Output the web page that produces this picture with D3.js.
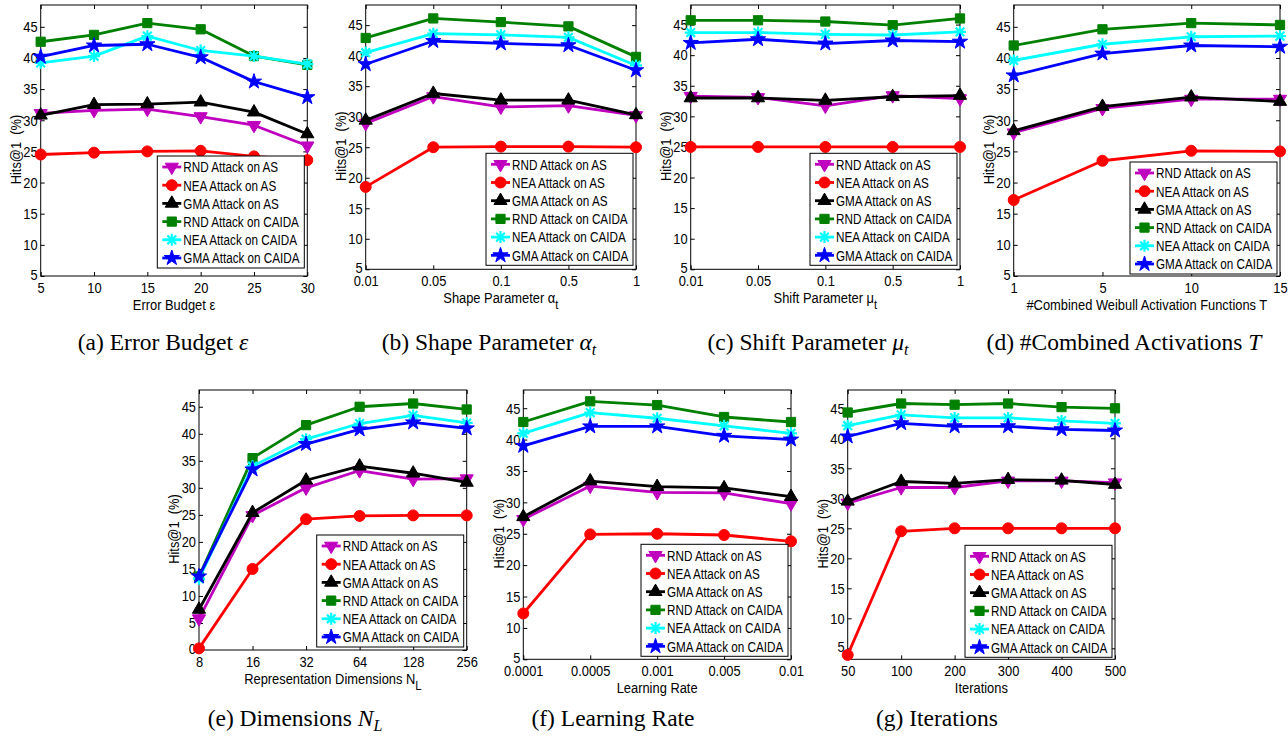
<!DOCTYPE html>
<html lang="en">
<head>
<meta charset="UTF-8" />
<script src="https://d3js.org/d3.v7.min.js"></script>
<style>
  body { margin: 0; background: #fff; }
  svg text { font-family: "Liberation Sans", Arial, sans-serif; font-size: 15px; fill: #000; }
  svg text.caption { font-family: "Liberation Serif", "Times New Roman", serif; font-size: 23.5px; }
</style>
<title>Hits@1 sensitivity</title>
</head>
<body>
<div id="chart"></div>
<script>
// legend entries, same order in every panel
const seriesNames = ["RND Attack on AS", "NEA Attack on AS", "GMA Attack on AS",
  "RND Attack on CAIDA", "NEA Attack on CAIDA", "GMA Attack on CAIDA"];

const yTicks = [5, 10, 15, 20, 25, 30, 35, 40, 45];
const yTicksDims = [0, 5, 10, 15, 20, 25, 30, 35, 40, 45];

// (a) error budget
const budgetTicks = ["5", "10", "15", "20", "25", "30"];
const budgetHits = [
  [31.1, 31.6, 31.8, 30.6, 29.2, 25.9],
  [24.5, 24.8, 25.0, 25.1, 24.2, 23.6],
  [30.8, 32.5, 32.6, 32.9, 31.3, 27.8],
  [42.6, 43.7, 45.6, 44.6, 40.3, 38.9],
  [39.2, 40.3, 43.5, 41.2, 40.3, 39.0],
  [40.2, 42.0, 42.2, 40.1, 36.2, 33.7]
];

// (b) shape parameter
const shapeTicks = ["0.01", "0.05", "0.1", "0.5", "1"];
const shapeHits = [
  [28.9, 33.3, 31.6, 31.8, 30.2],
  [18.5, 25.0, 25.1, 25.1, 25.0],
  [29.4, 33.8, 32.7, 32.7, 30.3],
  [42.9, 46.1, 45.5, 44.8, 39.8],
  [40.5, 43.6, 43.4, 43.0, 38.4],
  [38.6, 42.4, 42.0, 41.7, 37.6]
];

// (c) shift parameter
const shiftTicks = ["0.01", "0.05", "0.1", "0.5", "1"];
const shiftHits = [
  [33.3, 33.1, 31.7, 33.4, 32.9],
  [25.0, 25.0, 25.0, 25.0, 25.0],
  [33.0, 33.0, 32.6, 33.2, 33.4],
  [45.7, 45.7, 45.5, 44.9, 46.0],
  [43.7, 43.7, 43.4, 43.3, 43.8],
  [42.0, 42.6, 41.9, 42.4, 42.2]
];

// (d) number of combined activations
const actTicks = ["1", "5", "10", "15"];
const actHits = [
  [28.0, 31.9, 33.4, 33.4],
  [17.2, 23.5, 25.1, 25.0],
  [28.3, 32.2, 33.7, 33.0],
  [42.0, 44.6, 45.6, 45.3],
  [39.6, 42.2, 43.4, 43.5],
  [37.2, 40.7, 42.0, 41.8]
];

// (e) representation dimensions
const dimTicks = ["8", "16", "32", "64", "128", "256"];
const dimHits = [
  [5.8, 24.9, 30.0, 33.2, 31.6, 31.7],
  [0.3, 15.0, 24.2, 24.8, 24.9, 24.9],
  [7.5, 25.4, 31.4, 34.0, 32.7, 31.0],
  [13.6, 35.5, 41.6, 45.0, 45.6, 44.5],
  [13.2, 34.0, 39.0, 41.9, 43.4, 42.0],
  [13.6, 33.4, 38.1, 40.8, 42.1, 41.0]
];

// (f) learning rate
const lrTicks = ["0.0001", "0.0005", "0.001", "0.005", "0.01"];
const lrHits = [
  [27.3, 32.6, 31.6, 31.5, 29.8],
  [12.3, 24.9, 25.0, 24.8, 23.8],
  [27.7, 33.4, 32.5, 32.3, 30.9],
  [42.8, 46.1, 45.5, 43.6, 42.8],
  [41.0, 44.3, 43.4, 42.2, 41.0],
  [39.0, 42.1, 42.1, 40.6, 40.0]
];

// (g) iterations
const iterTicks = ["50", "100", "200", "300", "400", "500"];
const iterHits = [
  [29.2, 31.8, 31.8, 32.9, 32.9, 32.6],
  [3.9, 24.5, 25.0, 25.0, 25.0, 25.0],
  [29.5, 32.8, 32.5, 33.1, 33.0, 32.3],
  [44.3, 45.8, 45.6, 45.8, 45.2, 45.0],
  [42.1, 43.9, 43.4, 43.4, 42.9, 42.5],
  [40.3, 42.5, 42.0, 42.0, 41.5, 41.3]
];

// series look (matlab style)
const colors = ["#bf00bf", "#ff0000", "#000000", "#008000", "#00ffff", "#0000ff"];
const shapes = ["down", "circle", "up", "square", "asterisk", "star"];

// panel layout
const panels = [
  { ticks: budgetTicks, hits: budgetHits, yt: yTicks, yd: [5, 48.5], box: [40.7, 307.3, 5, 276], inset: 8,
    xlabel: ["Error Budget ε"], caption: [["(a) Error Budget "], ["ε", "i"]], cap: [163, 350] },
  { ticks: shapeTicks, hits: shapeHits, yt: yTicks, yd: [5, 48.3], box: [365.7, 636, 5, 269.3], inset: 4,
    xlabel: ["Shape Parameter α", "t"], caption: [["(b) Shape Parameter "], ["α", "i"], ["t", "is"]], cap: [489, 350] },
  { ticks: shiftTicks, hits: shiftHits, yt: yTicks, yd: [5, 48.2], box: [690.7, 960, 5, 269.3], inset: 4,
    xlabel: ["Shift Parameter μ", "t"], caption: [["(c) Shift Parameter "], ["μ", "i"], ["t", "is"]], cap: [808, 350] },
  { ticks: actTicks, hits: actHits, yt: yTicks, yd: [5, 48.5], box: [1013.7, 1280, 5, 276], inset: 2,
    xlabel: ["#Combined Weibull Activation Functions T"], caption: [["(d) #Combined Activations "], ["T", "i"]], cap: [1124, 350] },
  { ticks: dimTicks, hits: dimHits, yt: yTicksDims, yd: [0, 48.1], box: [199, 466.7, 390, 650], inset: 3,
    xlabel: ["Representation Dimensions N", "L"], caption: [["(e) Dimensions "], ["N", "i"], ["L", "is"]], cap: [295, 726] },
  { ticks: lrTicks, hits: lrHits, yt: yTicks, yd: [5, 47.9], box: [523.3, 791, 390, 659.3], inset: 3,
    xlabel: ["Learning Rate"], caption: [["(f) Learning Rate"]], cap: [613, 726] },
  { ticks: iterTicks, hits: iterHits, yt: yTicks, yd: [3.17, 48.05], box: [847.7, 1115, 390, 659.3], inset: 2,
    xlabel: ["Iterations"], caption: [["(g) Iterations"]], cap: [937, 726] }
];

const squeezeK = 0.86;
function squeeze(sel, k = squeezeK) {
  sel.attr("transform", function () {
    const x0 = +this.getAttribute("x") || 0;
    return `translate(${x0 * (1 - k)},0) scale(${k},1)`;
  });
}

function marker(g, kind, color) {
  if (kind === "asterisk") {
    const r = 6, d = r * 0.72;
    g.append("path")
      .attr("d", `M${-r},0H${r}M0,${-r}V${r}M${-d},${-d}L${d},${d}M${-d},${d}L${d},${-d}`)
      .attr("stroke", color).attr("stroke-width", 2.2).attr("fill", "none");
    return;
  }
  const types = { circle: d3.symbolCircle, square: d3.symbolSquare, up: d3.symbolTriangle,
    down: d3.symbolTriangle, star: d3.symbolStar };
  const sizes = { circle: 95, square: 85, up: 75, down: 75, star: 72 };
  g.append("path")
    .attr("d", d3.symbol(types[kind], sizes[kind])())
    .attr("fill", color).attr("stroke", color).attr("stroke-width", 1)
    .attr("transform", kind === "down" ? "rotate(180)" : null);
}

const svg = d3.select("#chart").append("svg")
  .attr("width", 1288).attr("height", 736)
  .style("background", "#fff");

panels.forEach((p) => {
  const [left, right, top, bottom] = p.box;
  const x = d3.scalePoint().domain(p.ticks).range([left, right]).padding(0);
  const y = d3.scaleLinear().domain(p.yd).range([bottom, top]);
  const g = svg.append("g");

  g.append("rect")
    .attr("x", left).attr("y", top)
    .attr("width", right - left).attr("height", bottom - top)
    .attr("fill", "#fff").attr("stroke", "#000").attr("stroke-width", 1);

  // ticks point inwards on all four sides
  const xb = g.append("g").attr("transform", `translate(0,${bottom})`)
    .call(d3.axisBottom(x).tickSizeInner(-4).tickSizeOuter(0).tickPadding(6.5));
  const yl = g.append("g").attr("transform", `translate(${left},0)`)
    .call(d3.axisLeft(y).tickValues(p.yt).tickSizeInner(-4).tickSizeOuter(0).tickPadding(3));
  g.append("g").attr("transform", `translate(0,${top})`)
    .call(d3.axisTop(x).tickSizeInner(-4).tickSizeOuter(0).tickFormat(""));
  g.append("g").attr("transform", `translate(${right},0)`)
    .call(d3.axisRight(y).tickValues(p.yt).tickSizeInner(-4).tickSizeOuter(0).tickFormat(""));
  g.selectAll(".domain").remove();
  g.selectAll(".tick line").attr("stroke", "#000");
  g.selectAll(".tick text").attr("font-size", 15).attr("font-family", null).attr("fill", "#000");
  squeeze(xb.selectAll(".tick text"));
  squeeze(yl.selectAll(".tick text"));
  // lowest y label sits right in the corner, lift it a hair so it clears the x labels
  yl.selectAll(".tick text").filter((d) => d === p.yt[0]).attr("dy", "0.2em");

  // axis titles
  const xl = g.append("text")
    .attr("x", (left + right) / 2).attr("y", bottom + 34)
    .attr("text-anchor", "middle")
    .text(p.xlabel[0]);
  if (p.xlabel[1]) xl.append("tspan").attr("dy", 6).attr("font-size", 13).text(p.xlabel[1]);
  squeeze(xl);

  g.append("text")
    .attr("transform", `translate(${left - 25},${(top + bottom) / 2 + 9}) rotate(-90) scale(${squeezeK},1)`)
    .attr("text-anchor", "middle")
    .attr("dy", "0.35em")
    .style("white-space", "pre")
    .text("Hits@1  (%)");

  // series, drawn in legend order so later ones sit on top
  const line = d3.line().x((d, i) => x(p.ticks[i])).y((d) => y(d));
  p.hits.forEach((vals, s) => {
    g.append("path")
      .attr("d", line(vals))
      .attr("fill", "none").attr("stroke", colors[s])
      .attr("stroke-width", 2.8).attr("stroke-linejoin", "round");
    g.selectAll(null).data(vals).enter().append("g")
      .attr("transform", (d, i) => `translate(${x(p.ticks[i])},${y(d)})`)
      .each(function () { marker(d3.select(this), shapes[s], colors[s]); });
  });

  // legend
  const lw = 147, lh = 112;
  const lg = g.append("g").attr("transform", `translate(${right - 3 - lw},${bottom - p.inset - lh})`);
  lg.append("rect").attr("width", lw).attr("height", lh)
    .attr("fill", "#fff").attr("stroke", "#000").attr("stroke-width", 1);
  seriesNames.forEach((name, s) => {
    const cy = 11 + s * 18.2;
    lg.append("line").attr("x1", 5).attr("x2", 24).attr("y1", cy).attr("y2", cy)
      .attr("stroke", colors[s]).attr("stroke-width", 2.8);
    marker(lg.append("g").attr("transform", `translate(14.5,${cy})`), shapes[s], colors[s]);
    squeeze(lg.append("text").attr("x", 26).attr("y", cy).attr("dy", "0.36em")
      .attr("font-size", 15.5).text(name), 0.78);
  });

  // sub-figure caption
  const ct = g.append("text").attr("class", "caption")
    .attr("x", p.cap[0]).attr("y", p.cap[1]).attr("text-anchor", "middle");
  p.caption.forEach(([txt, style]) => {
    const ts = ct.append("tspan").text(txt);
    if (style && style.includes("i")) ts.attr("font-style", "italic");
    if (style === "is") ts.attr("font-size", 16).attr("dy", 5);
  });
});
</script>
</body>
</html>
